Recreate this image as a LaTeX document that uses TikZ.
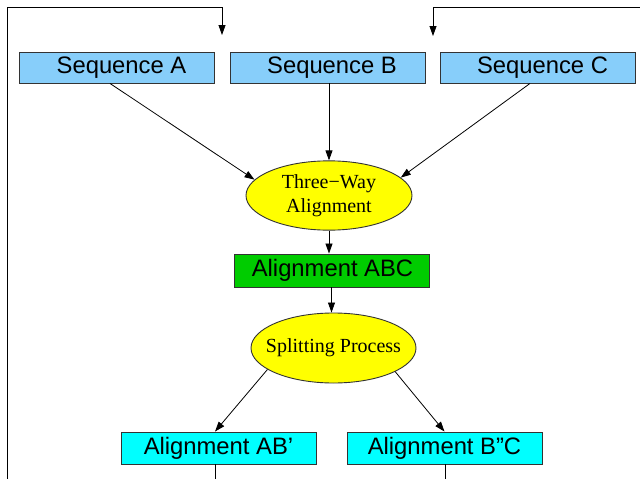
\documentclass[tikz,border=0pt]{standalone}
\usepackage{fontspec}
\setmainfont{Liberation Serif}
\setsansfont{Liberation Sans}
\usetikzlibrary{shapes.geometric,arrows.meta}
\definecolor{seqblue}{HTML}{87CEFA}
\definecolor{abcgreen}{HTML}{00CC00}
\definecolor{splitcyan}{HTML}{00FFFF}
\definecolor{procyellow}{HTML}{FFFF00}
\begin{document}
\begin{tikzpicture}[x=1pt,y=-1pt,
  box/.style={draw=black!80, line width=0.9pt, minimum width=195pt, minimum height=31pt, inner sep=0pt, font=\sffamily\fontsize{23.8}{26}\selectfont},
  proc/.style={ellipse, draw=black!80, line width=0.9pt, fill=procyellow, inner sep=0pt, font=\fontsize{20}{25}\selectfont},
  conn/.style={draw=black, line width=0.8pt, -{Triangle[length=10pt,width=7pt]}},
  wire/.style={draw=black, line width=0.8pt}]
\useasboundingbox (0,0) rectangle (640,479);

\node[box, fill=seqblue] (A) at (117,67.5) {\hspace*{9pt}Sequence A};
\node[box, fill=seqblue] (B) at (327.5,67.5) {\hspace*{9pt}Sequence B};
\node[box, fill=seqblue] (C) at (538,67.5) {\hspace*{9pt}Sequence C};
\node[proc, minimum width=166pt, minimum height=67pt] (tw) at (329,195.5) {\makebox[0pt]{\begin{tabular}{@{}c@{}}Three−Way\\[-1pt]Alignment\end{tabular}}};
\node[box, fill=abcgreen, minimum height=33pt] (abc) at (331.5,270.5) {\hspace*{2pt}Alignment ABC};
\node[proc, minimum width=165pt, minimum height=70pt] (sp) at (333.5,348) {\makebox[0pt]{Splitting Process}};
\node[box, fill=splitcyan, minimum height=32pt] (AB) at (218.5,448) {Alignment AB’};
\node[box, fill=splitcyan, minimum height=32pt] (BC) at (444.5,448) {Alignment B”C};

\coordinate (la) at (7.5,479);
\coordinate (ltr) at (222,7);
\coordinate (lend) at (222,35);
\coordinate (rs) at (640,7);
\coordinate (re) at (433,36);
\coordinate (abo) at (215,479);
\coordinate (bco) at (445,479);

\draw[conn] (la) |- (ltr) -- (lend);
\draw[conn] (rs) -| (re);

\draw[conn] ([xshift=-7pt]A.south) -- (tw.168);
\draw[conn] (B.south -| tw.north) -- (tw.north);
\draw[conn] ([xshift=-8pt]C.south) -- (tw.14);
\draw[conn] (tw.south) -- (tw.south |- abc.north);
\draw[conn] (abc.south) -- (abc.south |- sp.north);
\draw[conn] (sp.198) -- ([xshift=-3.5pt]AB.north);
\draw[conn] (sp.339) -- (BC.north);
\draw[wire] (AB.south -| abo) -- (abo);
\draw[wire] (BC.south -| bco) -- (bco);
\end{tikzpicture}
\end{document}
